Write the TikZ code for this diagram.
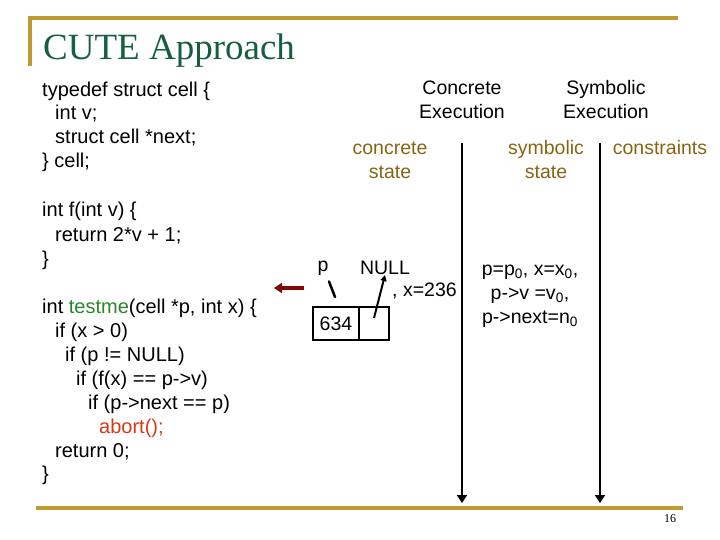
\documentclass[tikz,border=0pt]{standalone}
\usepackage{fontspec}
\setmainfont{Liberation Sans}
\newfontfamily\titlefont{Liberation Serif}
\usetikzlibrary{arrows.meta}

\definecolor{rulegold}{RGB}{190,155,50}
\definecolor{titlegreen}{RGB}{20,95,60}
\definecolor{stategold}{RGB}{135,100,20}
\definecolor{fungreen}{RGB}{40,135,40}
\definecolor{abortred}{RGB}{210,60,20}
\definecolor{arrowred}{RGB}{125,10,10}

\tikzset{
  code/.style={anchor=base west, inner sep=0pt, font=\fontsize{20}{24}\selectfont},
  head/.style={align=center, inner sep=0pt, font=\fontsize{19.5}{24}\selectfont},
  statelbl/.style={head, text=stategold},
  timeline/.style={line width=2pt, -{Triangle[width=10pt,length=8pt]}}
}

\begin{document}
\begin{tikzpicture}[x=1pt, y=-1pt, >=Latex]
  \useasboundingbox (0,0) rectangle (720,540);

  % Rahmen der Folie
  \draw[rulegold, line width=4pt] (30,66) -- (30,18) -- (678,18);
  \draw[rulegold, line width=4pt] (36,508) -- (683,508);
  \node[anchor=base west, inner sep=0pt, text=titlegreen,
        font=\titlefont\fontsize{37}{40}\selectfont] (titel) at (43,60) {CUTE Approach};
  \node[anchor=base, inner sep=0pt, font=\titlefont\fontsize{12}{14}\selectfont] (seite) at (670,522) {16};

  % Programmtext
  \node[code] (t1) at (42,97)  {typedef struct cell \{};
  \node[code] (t2) at (55,120) {int v;};
  \node[code] (t3) at (55,144) {struct cell *next;};
  \node[code] (t4) at (42,168) {\} cell;};
  \node[code] (f1) at (42,217) {int f(int v) \{};
  \node[code] (f2) at (55,241) {return 2*v + 1;};
  \node[code] (f3) at (42,265) {\}};
  \node[code] (m1) at (42,313) {int \textcolor{fungreen}{testme}(cell *p, int x) \{};
  \node[code] (m2) at (55,337) {if (x > 0)};
  \node[code] (m3) at (65,361) {if (p != NULL)};
  \node[code] (m4) at (76,385) {if (f(x) == p->v)};
  \node[code] (m5) at (88,409) {if (p->next == p)};
  \node[code, text=abortred] (m6) at (99,433) {abort();};
  \node[code] (m7) at (55,457) {return 0;};
  \node[code] (m8) at (42,480) {\}};

  % Spaltenkoepfe
  \node[head] (konkret) at (462,100) {Concrete\\Execution};
  \node[head] (symb) at (606,100) {Symbolic\\Execution};
  \node[statelbl] (kzust) at (390,160) {concrete\\state};
  \node[statelbl] (szust) at (546,160) {symbolic\\state};
  \node[statelbl] (bed) at (660,148) {constraints};

  % Zeitachsen
  \coordinate (k0) at (462,143);
  \coordinate (k1) at (462,503);
  \coordinate (s0) at (600,143);
  \coordinate (s1) at (600,503);
  \draw[timeline] (k0) -- (k1);
  \draw[timeline] (s0) -- (s1);

  % aktuelle Zeile
  \coordinate (pfeil0) at (304,288);
  \coordinate (pfeil1) at (274,288);
  \draw[arrowred, line width=4pt, -{Triangle[width=10pt,length=8pt]}] (pfeil0) -- (pfeil1);

  % konkreter Zustand
  \draw[line width=2pt] (313,307) rectangle (389,340);
  \draw[line width=2pt] (359,307) -- (359,340);
  \node[head] (wert) at (336,323.5) {634};
  \node[head] (pvar) at (323,268) {p};
  \node[head] (null) at (385,268) {NULL};
  \node[head, anchor=west] (xwert) at (392,291) {, x=236};
  \coordinate (zeiger) at (374,318);
  \draw[line width=2pt, -{Triangle[width=6pt,length=6pt]}] (zeiger) -- (null.south);
  \draw[line width=2.5pt, line cap=round] (pvar.south) ++(6,6) -- (335,297);

  % symbolischer Zustand
  \node[head] (symwerte) at (530,296)
    {p=p\textsubscript{0}, x=x\textsubscript{0},\\
     p->v =v\textsubscript{0},\\
     p->next=n\textsubscript{0}};
\end{tikzpicture}
\end{document}
